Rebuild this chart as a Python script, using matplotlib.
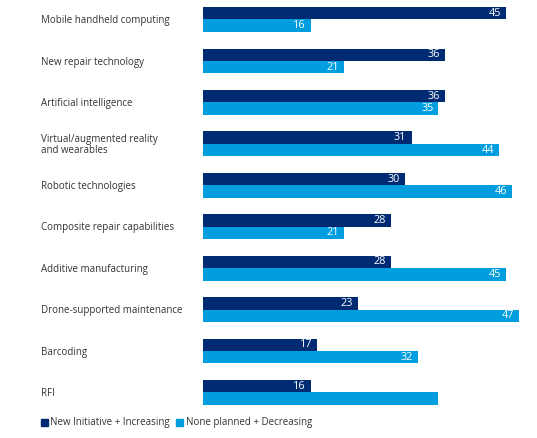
import matplotlib.pyplot as plt
import matplotlib.transforms as mtransforms
from matplotlib.patches import Patch

plt.rcParams['font.family'] = ['Open Sans', 'DejaVu Sans']

categories = ['Mobile handheld computing', 'New repair technology', 'Artificial intelligence',
              'Virtual/augmented reality\nand wearables', 'Robotic technologies',
              'Composite repair capabilities', 'Additive manufacturing',
              'Drone-supported maintenance', 'Barcoding', 'RFI']
new_increasing = [45, 36, 36, 31, 30, 28, 28, 23, 17, 16]
none_decreasing = [16, 21, 35, 44, 46, 21, 45, 47, 32, 35]
show_label2 = [True] * 9 + [False]
series_names = ['New Initiative + Increasing', 'None planned + Decreasing']

navy = '#002b72'
blue = '#009ddf'
text_col = '#333333'

W, H = 537, 438
fig = plt.figure(figsize=(W / 100, H / 100), dpi=100)
ax = fig.add_axes([203 / W, 1 - 411.1 / H, (532.6 - 203) / W, (411.1 - 0.85) / H])

bh = 0.30
ys = list(range(len(categories)))
ax.barh([y - bh / 2 for y in ys], new_increasing, height=bh, color=navy)
ax.barh([y + bh / 2 for y in ys], none_decreasing, height=bh, color=blue)
ax.set_xlim(0, 49)
ax.set_ylim(9.45, -0.45)
ax.axis('off')

pad = mtransforms.ScaledTranslation(-5 / 100, 0, fig.dpi_scale_trans)
for y, v1, v2, s2 in zip(ys, new_increasing, none_decreasing, show_label2):
    ax.text(v1, y - bh / 2, str(v1), color='white', fontsize=7.8, ha='right', va='center',
            transform=ax.transData + pad)
    if s2:
        ax.text(v2, y + bh / 2, str(v2), color='white', fontsize=7.8, ha='right', va='center',
                transform=ax.transData + pad)

# category names sit at the group centre, left-aligned in figure space
lab_tr = mtransforms.blended_transform_factory(fig.transFigure, ax.transData)
for y, c in zip(ys, categories):
    ax.text(41 / W, y + 0.03, c, transform=lab_tr, ha='left', va='center', fontsize=7,
            color=text_col, linespacing=1.1)

handles = [Patch(color=navy), Patch(color=blue)]
fig.legend(handles, series_names, loc='center left', bbox_to_anchor=(32 / W, 1 - 423 / H),
           ncol=2, frameon=False, fontsize=7, handlelength=0.7, handleheight=0.7,
           handletextpad=0.3, columnspacing=0.6, labelcolor=text_col)

fig.savefig('out.png', dpi=100)
